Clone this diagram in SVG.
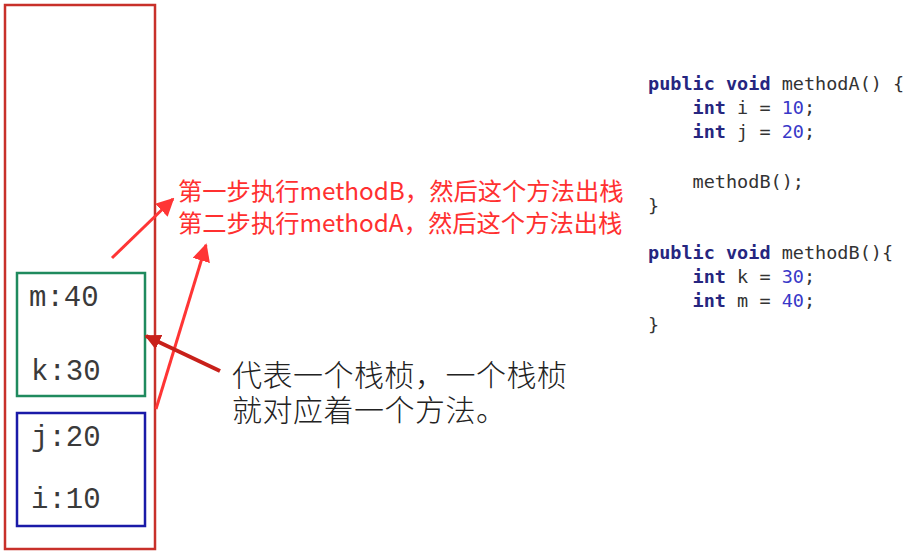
<svg xmlns="http://www.w3.org/2000/svg" width="906" height="555" viewBox="0 0 906 555">
<defs>
<style>
.var{font-family:"Liberation Mono","DejaVu Sans Mono",monospace;font-size:29px;fill:#3a3a3a}
.note{font-family:"Noto Sans CJK SC","Noto Sans",sans-serif;font-size:24.3px;fill:#ff3030}
.desc{font-family:"Noto Sans CJK SC",sans-serif;font-size:30px;font-weight:300;fill:#222;letter-spacing:0.5px}
.code{font-family:"DejaVu Sans Mono","Liberation Mono",monospace;font-size:18.5px;fill:#333}
.kw{fill:#262680;font-weight:bold}
.num{fill:#3838c8}
.red{stroke:#ff3535;stroke-width:3;fill:none}
.dark{stroke:#c8201a;stroke-width:4;fill:none}
</style>
<marker id="ah" viewBox="0 0 10 10" refX="9" refY="5" markerWidth="6" markerHeight="6" orient="auto" markerUnits="strokeWidth">
<path d="M0,0 L10,5 L0,10 z" fill="#ff3535"/>
</marker>
<marker id="ahd" viewBox="0 0 10 10" refX="9" refY="5" markerWidth="4" markerHeight="4" orient="auto" markerUnits="strokeWidth">
<path d="M0,0 L10,5 L0,10 z" fill="#c8201a"/>
</marker>
</defs>
<rect width="906" height="555" fill="#fff"/>
<g id="stack">
<rect x="5" y="5" width="150" height="544" fill="none" stroke="#c8302a" stroke-width="2.5"/>
</g>
<g id="frameB">
<rect x="17" y="273" width="128" height="123" fill="none" stroke="#1f8a5e" stroke-width="2.5"/>
<text class="var" x="29" y="306">m:40</text>
<text class="var" x="31" y="380">k:30</text>
</g>
<g id="frameA">
<rect x="17" y="413" width="128" height="113" fill="none" stroke="#1a1aa8" stroke-width="2.5"/>
<text class="var" x="31" y="446">j:20</text>
<text class="var" x="31" y="508">i:10</text>
</g>
<g id="notes">
<text class="note" x="178" y="200">第一步执行methodB，然后这个方法出栈</text>
<text class="note" x="178" y="232">第二步执行methodA，然后这个方法出栈</text>
</g>
<g id="desc">
<text class="desc" x="232" y="386">代表一个栈桢，一个栈桢</text>
<text class="desc" x="232" y="421">就对应着一个方法。</text>
</g>
<g id="code" class="code">
<text x="648" y="90"><tspan class="kw">public void</tspan> methodA() {</text>
<text x="648" y="114" xml:space="preserve">    <tspan class="kw">int</tspan> i = <tspan class="num">10</tspan>;</text>
<text x="648" y="138" xml:space="preserve">    <tspan class="kw">int</tspan> j = <tspan class="num">20</tspan>;</text>
<text x="648" y="188" xml:space="preserve">    methodB();</text>
<text x="648" y="212">}</text>
<text x="648" y="259"><tspan class="kw">public void</tspan> methodB(){</text>
<text x="648" y="283" xml:space="preserve">    <tspan class="kw">int</tspan> k = <tspan class="num">30</tspan>;</text>
<text x="648" y="307" xml:space="preserve">    <tspan class="kw">int</tspan> m = <tspan class="num">40</tspan>;</text>
<text x="648" y="331">}</text>
</g>
<g id="connectors">
<line class="red" x1="112" y1="258" x2="173" y2="199" marker-end="url(#ah)"/>
<line class="red" x1="156" y1="409" x2="206" y2="245" marker-end="url(#ah)"/>
<line class="dark" x1="220" y1="371" x2="146" y2="336" marker-end="url(#ahd)"/>
</g>
</svg>
